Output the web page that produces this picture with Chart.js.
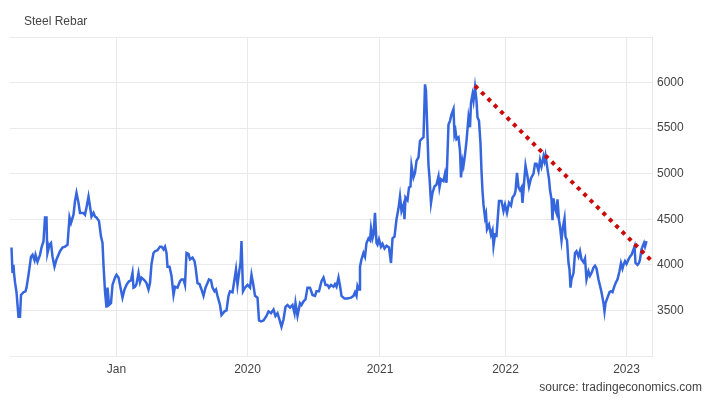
<!DOCTYPE html>
<html>
<head>
<meta charset="utf-8">
<script src="https://cdn.jsdelivr.net/npm/chart.js@4/dist/chart.umd.min.js"></script>
<style>
  html, body { margin: 0; padding: 0; background: #fff; }
</style>
</head>
<body>
<canvas id="graficoRebar" width="720" height="405"></canvas>
<script>
// trading session index (ordinal axis, like the source chart) and price in CNY/T
const sessoes = [
  3, 5, 7, 8, 10, 13, 17, 20, 22, 27, 31, 33, 37, 42, 45, 49, 51, 55, 60, 63, 67, 70, 73, 74, 75, 79, 82, 85, 89, 93,
  100, 105, 110, 115, 119, 122, 127, 130, 133, 137, 140, 147, 150, 153, 157, 160, 163, 167, 170, 173, 178, 182, 185, 187, 190, 193, 195, 198, 202, 205,
  210, 213, 217, 220, 225, 229, 233, 238, 242, 245, 247, 250, 253, 257, 260, 263, 269, 273, 277, 280, 283, 287, 290, 295, 300, 303, 307, 310, 313, 315,
  319, 323, 327, 330, 335, 340, 343, 347, 350, 353, 357, 360, 365, 369, 371, 375, 379, 383, 387, 391, 395, 398, 402, 405, 409, 412, 415, 420, 423, 429,
  433, 437, 440, 445, 449, 452, 455, 459, 461, 463, 466, 470, 475, 480, 483, 487, 490, 495, 498, 502, 507, 513, 517, 522, 527, 531, 535, 540, 543, 547,
  551, 555, 560, 565, 569, 571, 575, 580, 583, 587, 591, 595, 600, 605, 610, 613, 618, 623, 627, 631, 635, 638, 642, 647, 650, 653, 657, 660, 663, 669,
  675, 682, 687, 690, 693, 695, 698, 700, 703, 707, 710, 713, 717, 720, 722, 725, 727, 730, 733, 735, 738, 742, 745, 749, 753, 758, 762, 765, 769, 773,
  777, 780, 783, 787, 789, 791, 795, 798, 801, 803, 807, 810, 813, 817, 820, 823, 827, 830, 832, 834, 837, 839, 842, 845, 849, 853, 857, 859, 862, 867,
  870, 873, 877, 880, 883, 887, 889, 891, 893, 897, 900, 902, 905, 907, 910, 913, 917, 920, 922, 925, 927, 930, 933, 935, 938, 941, 943, 945, 947, 950,
  952, 954, 958, 962, 965, 967, 970, 973, 978, 983, 987, 990, 994, 998, 1002, 1005, 1009, 1011, 1014, 1017, 1020, 1023, 1025, 1029, 1031, 1035, 1038, 1042, 1047, 1050,
  1053, 1057, 1060, 1063, 1067, 1069, 1071, 1075, 1078, 1080, 1083, 1085, 1087, 1090, 1093, 1095, 1098, 1100, 1103, 1106, 1109, 1111, 1114, 1117, 1119, 1121, 1123, 1127, 1130, 1133,
  1137, 1140, 1143, 1147, 1150, 1153, 1157, 1160, 1163, 1167, 1170, 1173, 1177, 1180, 1183, 1187, 1189, 1191, 1195, 1199, 1202, 1205, 1209, 1212, 1215, 1219, 1222, 1225, 1227, 1230,
  1233, 1237, 1240, 1243, 1247, 1249, 1251, 1255, 1258, 1260, 1263, 1265, 1268, 1270, 1273
];
const precos = [
  4190, 3910, 4000, 3910, 3810, 3700, 3430, 3430, 3670, 3700, 3710, 3750, 3890, 4090, 4110, 4050, 4110, 4035, 4110, 4190, 4260, 4520, 4520, 4260, 4130, 4220, 4240, 4090, 3980, 4060,
  4150, 4190, 4200, 4220, 4520, 4460, 4550, 4700, 4790, 4680, 4570, 4570, 4550, 4630, 4750, 4640, 4530, 4570, 4530, 4520, 4480, 4310, 4240, 4000, 3710, 3530, 3750, 3560, 3580, 3780,
  3860, 3890, 3860, 3780, 3640, 3730, 3780, 3820, 3830, 3910, 3750, 3760, 3790, 3910, 3810, 3860, 3830, 3800, 3730, 3800, 4010, 4130, 4150, 4160, 4200, 4200, 4170, 4200, 4130, 3980,
  3980, 3880, 3670, 3760, 3750, 3820, 3840, 3840, 3780, 4130, 4120, 4060, 4080, 4040, 3980, 3800, 3790, 3730, 3660, 3750, 3800, 3840, 3830, 3750, 3710, 3730, 3660, 3560, 3450, 3490,
  3500, 3660, 3710, 3700, 3840, 3950, 3780, 3950, 4020, 4260, 3710, 3750, 3780, 3750, 3890, 3770, 3660, 3640, 3390, 3380, 3390, 3440, 3490, 3470, 3510, 3440, 3470, 3380, 3320, 3400,
  3540, 3560, 3530, 3560, 3470, 3580, 3440, 3580, 3560, 3600, 3620, 3750, 3750, 3670, 3660, 3710, 3710, 3820, 3860, 3780, 3780, 3750, 3780, 3760, 3790, 3760, 3860, 3770, 3660, 3630,
  3630, 3640, 3660, 3700, 3660, 3770, 3730, 3980, 4060, 4130, 4090, 4240, 4290, 4270, 4400, 4290, 4330, 4570, 4240, 4220, 4280, 4200, 4230, 4180, 4210, 4190, 4020, 4290, 4310, 4500,
  4620, 4750, 4590, 4660, 4500, 4740, 4710, 4850, 4860, 5090, 4960, 5010, 5140, 5180, 5360, 5380, 5400, 5980, 5910, 5580, 5090, 4960, 4680, 4790, 4860, 4880, 4970, 4850, 4940, 4920,
  5000, 4900, 5540, 5580, 5650, 5710, 5430, 5470, 5380, 5400, 5250, 4960, 5140, 5090, 5210, 5360, 5620, 5510, 5780, 5870, 5800, 5950, 5800, 5620, 5580, 5330, 5030, 4810, 4660, 4520,
  4560, 4390, 4440, 4330, 4380, 4210, 4330, 4320, 4700, 4700, 4590, 4660, 4570, 4680, 4650, 4740, 4770, 4810, 5010, 4850, 4820, 4850, 4680, 4960, 5090, 4970, 4860, 4950, 5000, 5110,
  5110, 5030, 5150, 5080, 5190, 5140, 5200, 5050, 4940, 4820, 4720, 4490, 4730, 4620, 4570, 4720, 4490, 4420, 4270, 4420, 4510, 4310, 4270, 4020, 3950, 3750, 3840, 3910, 4130, 4150,
  4090, 4150, 4060, 4030, 4070, 3840, 3930, 3880, 3910, 3970, 3990, 3960, 3840, 3770, 3700, 3580, 3490, 3580, 3640, 3700, 3710, 3700, 3770, 3810, 3840, 3930, 4020, 3960, 4000, 4040,
  4010, 4060, 4090, 4110, 4170, 4200, 4020, 4000, 4020, 4060, 4170, 4200, 4240, 4200, 4260
];

// eixo X: inicio de cada ano
const anoTicks = [213, 475, 740, 991, 1233];
const anoLabels = ['Jan', '2020', '2021', '2022', '2023'];
const precoLabels = [3500, 4000, 4500, 5000, 5500, 6000];

// linha de tendencia (resistencia) desenhada a mao no original
const tendenciaX = [930, 1284];
const tendenciaY = [5965, 4040];

const fonteEixo = { family: '"Liberation Sans", Arial, sans-serif', size: 12 };

// titulo e fonte do grafico
const textosExtras = {
    id: 'textosExtras',
    afterDraw(chart) {
        const ctx = chart.ctx;
        ctx.save();
        ctx.font = '12px "Liberation Sans", Arial, sans-serif';
        ctx.fillStyle = '#444';
        ctx.textBaseline = 'middle';
        ctx.textAlign = 'left';
        ctx.fillText('Steel Rebar', 24, 22);
        ctx.textAlign = 'right';
        ctx.fillText('source: tradingeconomics.com', 702, 388);
        ctx.restore();
    }
};

new Chart(document.getElementById('graficoRebar'), {
    type: 'line',
    data: {
        datasets: [{
            label: 'Steel Rebar',
            data: sessoes.map((s, i) => ({ x: s, y: precos[i] })),
            borderColor: '#3566de',
            borderWidth: 2.5,
            pointRadius: 0,
            tension: 0,
            order: 2
        },
        {
            label: 'Tendencia',
            data: tendenciaX.map((s, i) => ({ x: s, y: tendenciaY[i] })),
            borderColor: '#cc0a0a',
            borderWidth: 4,
            borderDash: [4, 5],
            pointRadius: 0,
            order: 1
        }]
    },
    options: {
        responsive: false,
        animation: false,
        devicePixelRatio: 1,
        layout: { padding: { top: 37, left: 10, right: 0, bottom: 0 } },
        plugins: {
            legend: { display: false },
            tooltip: { enabled: false }
        },
        scales: {
            x: {
                type: 'linear',
                min: 0,
                max: 1284,
                afterBuildTicks: scale => { scale.ticks = anoTicks.map(v => ({ value: v })); },
                afterFit: scale => { scale.height = 49; },
                ticks: {
                    callback: (v, i) => anoLabels[i],
                    font: fonteEixo,
                    color: '#444',
                    padding: 6,
                    maxRotation: 0,
                    autoSkip: false
                },
                grid: { color: '#e9e9e9', drawTicks: false },
                border: { display: false }
            },
            y: {
                position: 'right',
                min: 3000,
                max: 6500,
                afterFit: scale => { scale.width = 68; },
                ticks: {
                    stepSize: 500,
                    callback: v => precoLabels.includes(v) ? String(v) : '',
                    font: fonteEixo,
                    color: '#444',
                    padding: 5
                },
                grid: { color: '#e9e9e9', drawTicks: false },
                border: { display: true, color: '#e9e9e9' }
            }
        }
    },
    plugins: [textosExtras]
});
</script>
</body>
</html>
